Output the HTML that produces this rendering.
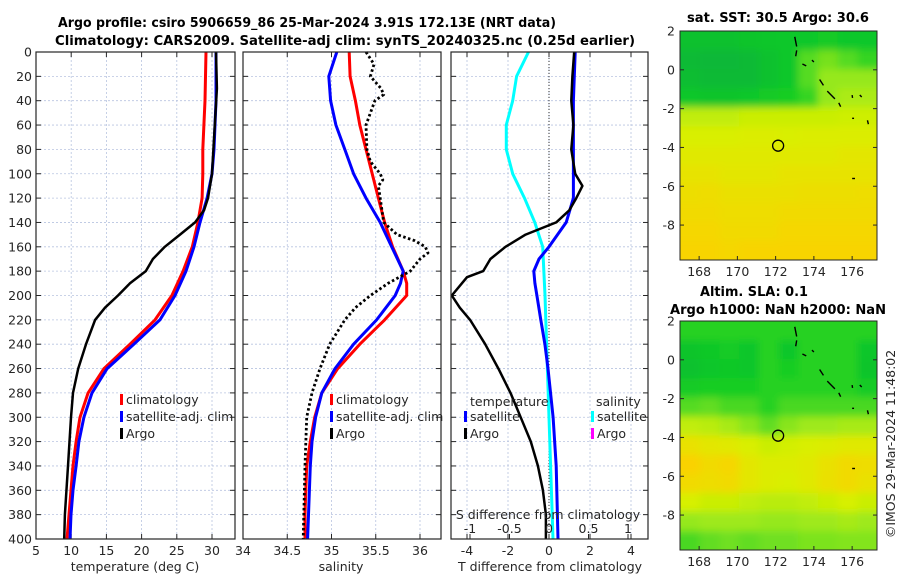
<!DOCTYPE html>
<html><head><meta charset="utf-8">
<style>
html,body{margin:0;padding:0;background:#fff;}
svg{display:block;font-family:"DejaVu Sans","Liberation Sans",sans-serif;}
.t{font-size:12.5px;fill:#262626;}
.b{font-size:13px;font-weight:bold;fill:#000;}
</style></head>
<body>
<svg id="fig" width="900" height="580" viewBox="0 0 900 580">
<text class="b" x="307" y="27" text-anchor="middle" textLength="498" lengthAdjust="spacingAndGlyphs">Argo profile: csiro 5906659_86 25-Mar-2024 3.91S 172.13E (NRT data)</text>
<text class="b" x="345" y="45" text-anchor="middle" textLength="580" lengthAdjust="spacingAndGlyphs">Climatology: CARS2009. Satellite-adj clim: synTS_20240325.nc (0.25d earlier)</text>
<text class="b" x="778" y="22" text-anchor="middle" textLength="182" lengthAdjust="spacingAndGlyphs">sat. SST: 30.5 Argo: 30.6</text>
<text class="b" x="754" y="296" text-anchor="middle" textLength="108" lengthAdjust="spacingAndGlyphs">Altim. SLA: 0.1</text>
<text class="b" x="778" y="314" text-anchor="middle" textLength="216" lengthAdjust="spacingAndGlyphs">Argo h1000: NaN h2000: NaN</text>
<text class="t" transform="translate(895,444) rotate(-90)" text-anchor="middle">©IMOS 29-Mar-2024 11:48:02</text>
</svg>
<script>
// ---- data ----
const depths1 = [0,40,80,100,120,140,160,180,200,220,240,260,280,300,320,340,360,380,400];
const tempClim = [29.15,29.0,28.7,28.7,28.6,28.0,27.2,25.9,24.3,21.9,18.35,14.66,12.4,11.25,10.7,10.26,9.97,9.69,9.4];
const tempSat = [30.57,30.57,30.28,30.0,29.3,28.3,27.44,26.3,24.74,22.6,18.9,15.1,12.95,11.8,11.1,10.7,10.26,9.97,9.83];
const depthsArgo = [0,30,60,100,120,130,140,150,160,170,180,190,200,210,220,240,260,280,300,340,380,400];
const tempArgo = [30.57,30.7,30.4,30.0,29.43,28.86,27.6,25.45,23.3,21.6,20.6,18.35,16.65,14.8,13.4,12.1,11.0,10.26,9.97,9.55,9.1,9.0];
const depthsS = [0,20,40,60,80,100,120,140,160,180,190,200,220,240,260,280,300,320,340,360,380,400];
const salClim = [35.20,35.21,35.27,35.32,35.39,35.46,35.53,35.60,35.69,35.81,35.85,35.85,35.60,35.32,35.07,34.89,34.81,34.76,34.72,34.71,34.70,34.70];
const salSat = [35.06,34.97,34.99,35.05,35.15,35.25,35.39,35.55,35.68,35.81,35.78,35.72,35.51,35.25,35.04,34.89,34.82,34.78,34.76,34.75,34.74,34.73];
const depthsSArgo = [0,10,20,30,35,40,50,60,80,90,100,105,110,120,140,150,155,160,165,170,180,190,200,210,220,240,260,280,300,340,400];
const salArgo = [35.39,35.48,35.44,35.56,35.59,35.49,35.44,35.39,35.40,35.44,35.55,35.58,35.53,35.55,35.59,35.74,35.94,36.06,36.09,36.0,35.89,35.64,35.44,35.27,35.15,34.98,34.87,34.78,34.72,34.70,34.68];
const depthsD = [0,20,40,60,80,100,110,120,130,140,150,160,170,180,185,190,200,210,220,240,260,280,300,320,340,360,380,400];
const dTArgo = [1.23,1.14,1.09,1.19,1.09,1.28,1.63,1.33,0.99,0.35,-1.14,-2.12,-2.86,-3.21,-4.0,-4.25,-4.74,-4.35,-3.85,-3.11,-2.47,-1.88,-1.38,-0.89,-0.54,-0.30,-0.15,-0.15];
const depthsDS = [0,40,80,120,140,160,170,180,190,200,220,240,260,300,340,400];
const dTSat = [1.28,1.19,1.19,1.19,0.84,0,-0.49,-0.74,-0.69,-0.59,-0.4,-0.2,-0.05,0.2,0.35,0.44];
const depthsC = [0,20,40,60,80,100,120,140,160,200,240,300,400];
const dSSat = [-0.26,-0.41,-0.46,-0.54,-0.54,-0.46,-0.31,-0.18,-0.08,-0.05,-0.03,0,0.05];
const depthTicks = [0,20,40,60,80,100,120,140,160,180,200,220,240,260,280,300,320,340,360,380,400];
const tTicks = [5,10,15,20,25,30,35];
const sTicks = [34,34.5,35,35.5,36];
const dTicks = [-4,-2,0,2,4];
const dSTicks = [-1,-0.5,0,0.5,1];
const lonTicks = [168,170,172,174,176];
const latTicks = [2,0,-2,-4,-6,-8];
const sstGrid = [
[0.2,0.2,0.2,0.22,0.24,0.25,0.25,0.27,0.25,0.25],
[0.14,0.12,0.12,0.14,0.2,0.25,0.4,0.45,0.4,0.35],
[0.16,0.14,0.14,0.14,0.2,0.25,0.4,0.5,0.5,0.5],
[0.25,0.22,0.22,0.25,0.27,0.3,0.35,0.5,0.55,0.55],
[0.6,0.6,0.6,0.62,0.62,0.62,0.62,0.62,0.63,0.63],
[0.66,0.66,0.66,0.67,0.67,0.66,0.67,0.67,0.67,0.67],
[0.7,0.7,0.7,0.7,0.7,0.7,0.7,0.7,0.72,0.72],
[0.74,0.74,0.72,0.72,0.72,0.74,0.74,0.74,0.74,0.74],
[0.77,0.78,0.76,0.76,0.76,0.76,0.77,0.77,0.77,0.78],
[0.8,0.8,0.78,0.78,0.78,0.8,0.8,0.8,0.8,0.8],
[0.82,0.82,0.8,0.8,0.8,0.82,0.82,0.82,0.82,0.82],
[0.84,0.84,0.82,0.84,0.84,0.84,0.84,0.84,0.84,0.84]];
const slaGrid = [
[0.33,0.33,0.33,0.33,0.33,0.33,0.33,0.33,0.33,0.33],
[0.22,0.26,0.28,0.24,0.33,0.24,0.33,0.33,0.33,0.24],
[0.2,0.24,0.26,0.24,0.33,0.3,0.33,0.33,0.33,0.22],
[0.28,0.3,0.3,0.3,0.33,0.33,0.33,0.33,0.33,0.28],
[0.4,0.42,0.38,0.38,0.33,0.38,0.38,0.38,0.38,0.38],
[0.6,0.58,0.54,0.48,0.42,0.48,0.52,0.52,0.54,0.54],
[0.75,0.72,0.7,0.66,0.62,0.64,0.66,0.68,0.7,0.7],
[0.85,0.8,0.82,0.72,0.68,0.68,0.7,0.75,0.8,0.78],
[0.8,0.78,0.8,0.72,0.68,0.66,0.7,0.76,0.8,0.75],
[0.65,0.62,0.62,0.6,0.58,0.58,0.6,0.62,0.65,0.62],
[0.5,0.52,0.52,0.52,0.5,0.5,0.52,0.52,0.54,0.52],
[0.38,0.42,0.44,0.42,0.44,0.44,0.46,0.46,0.47,0.47]];

// ---- helpers ----
const NS='http://www.w3.org/2000/svg';
const svg=document.getElementById('fig');
function el(tag,attrs,parent){const e=document.createElementNS(NS,tag);for(const k in attrs)e.setAttribute(k,attrs[k]);(parent||svg).appendChild(e);return e;}
const Y0=52,Y1=539;
const yD=d=>Y0+(d/400)*(Y1-Y0);
function lin(d0,d1,p0,p1){return v=>p0+(v-d0)/(d1-d0)*(p1-p0);}
const xT=lin(5,30,36,212), xS=lin(34,36,243,420), xD=lin(0,4,549,631), xDS=lin(0,1,549,628);
const panels=[{x0:36,x1:235,name:'temperature-panel'},{x0:243,x1:441,name:'salinity-panel'},{x0:451,x1:648,name:'difference-panel'}];

function drawPanel(p,xScale,ticks,tickFmt,showY){
  const g=el('g',{});
  
  
  depthTicks.forEach(d=>{
    const l=el('line',{x1:p.x0,x2:p.x1,y1:yD(d),y2:yD(d),stroke:'#b8c4e0','stroke-width':0.8,'stroke-dasharray':'2,2'},g);
    
    
    el('line',{x1:p.x0,x2:p.x0+5,y1:yD(d),y2:yD(d),stroke:'#262626'},g);
    el('line',{x1:p.x1,x2:p.x1-5,y1:yD(d),y2:yD(d),stroke:'#262626'},g);
    if(showY){const t=el('text',{x:p.x0-4,y:yD(d)+4.5,'text-anchor':'end',class:'t'},g);t.textContent=d;
      
      }
  });
  ticks.forEach(v=>{
    const x=xScale(v);
    if(x>p.x0+1&&x<p.x1-1){
      const l=el('line',{x1:x,x2:x,y1:Y0,y2:Y1,stroke:'#b8c4e0','stroke-width':0.8,'stroke-dasharray':'2,2'},g);
      
      
      el('line',{x1:x,x2:x,y1:Y1,y2:Y1-5,stroke:'#262626'},g);
      el('line',{x1:x,x2:x,y1:Y0,y2:Y0+5,stroke:'#262626'},g);
    }
    if(x>=p.x0-3&&x<=p.x1+3){const t=el('text',{x:x,y:Y1+16,'text-anchor':'middle',class:'t'},g);t.textContent=tickFmt(v);
      
      }
  });
  return g;
}
function line(xs,ds,xScale,color,w,dash,name,g){
  const pts=xs.map((v,i)=>xScale(v).toFixed(1)+','+yD(ds[i]).toFixed(1)).join(' ');
  const pl=el('polyline',{points:pts,fill:'none',stroke:color,'stroke-width':w,'stroke-linejoin':'round'},g);
  if(dash)pl.setAttribute('stroke-dasharray',dash);
  
  
}
function frame(p,g){el('rect',{x:p.x0,y:Y0,width:p.x1-p.x0,height:Y1-Y0,fill:'none',stroke:'#262626','stroke-width':1.2},g);}
function label(x,y,txt,name,anchor,g,color){const t=el('text',{x:x,y:y,class:'t','text-anchor':anchor||'start'},g);if(color)t.setAttribute('fill',color);t.textContent=txt;
  
  return t;}
function legItem(x,y,color,txt,name,g){
  el('rect',{x:x,y:y-10,width:3,height:11,fill:color},g);
  label(x+6,y,txt,name,'start',g);
}

let g1=drawPanel(panels[0],xT,tTicks,v=>v,true);
line(tempClim,depths1,xT,'#ff0000',3,null,'climatology-temp-line',g1);
line(tempSat,depths1,xT,'#0000ff',3,null,'satellite-temp-line',g1);
line(tempArgo,depthsArgo,xT,'#000',2.5,null,'argo-temp-line',g1);
frame(panels[0],g1);
legItem(120,404,'#ff0000','climatology','legend-climatology',g1);
legItem(120,421,'#0000ff','satellite-adj. clim','legend-satellite-adj',g1);
legItem(120,438,'#000','Argo','legend-argo',g1);
label(135,571,'temperature (deg C)','x-axis-title-temperature','middle',g1);

let g2=drawPanel(panels[1],xS,sTicks,v=>v,false);
line(salClim,depthsS,xS,'#ff0000',3,null,'climatology-salinity-line',g2);
line(salSat,depthsS,xS,'#0000ff',3,null,'satellite-salinity-line',g2);
line(salArgo,depthsSArgo,xS,'#000',2.8,'2.5,2.5','argo-salinity-line',g2);
frame(panels[1],g2);
legItem(330,404,'#ff0000','climatology','legend-climatology-2',g2);
legItem(330,421,'#0000ff','satellite-adj. clim','legend-satellite-adj-2',g2);
legItem(330,438,'#000','Argo','legend-argo-2',g2);
label(341,571,'salinity','x-axis-title-salinity','middle',g2);

let g3=drawPanel(panels[2],xD,dTicks,v=>v,false);
const zl=el('line',{x1:xD(0),x2:xD(0),y1:Y0,y2:Y1,stroke:'#333','stroke-width':1,'stroke-dasharray':'1,2'},g3);


line(dSSat,depthsC,xDS,'#00ffff',3,null,'satellite-salinity-diff-line',g3);
line(dTSat,depthsDS,xD,'#0000ff',3,null,'satellite-temp-diff-line',g3);
line(dTArgo,depthsD,xD,'#000',2.5,null,'argo-temp-diff-line',g3);
frame(panels[2],g3);
label(470,406,'temperature','legend-title-temperature','start',g3);
label(596,406,'salinity','legend-title-salinity','start',g3);
legItem(464,421,'#0000ff','satellite','legend-temp-satellite',g3);
legItem(464,438,'#000','Argo','legend-temp-argo',g3);
legItem(591,421,'#00ffff','satellite','legend-sal-satellite',g3);
legItem(591,438,'#ff00ff','Argo','legend-sal-argo',g3);
label(548,519,'S difference from climatology','s-axis-title','middle',g3);
dSTicks.forEach(v=>{label(xDS(v),533,v,'s-tick-label','middle',g3);
  el('line',{x1:xDS(v),x2:xDS(v),y1:Y1,y2:Y1-5,stroke:'#262626'},g3);});
label(550,571,'T difference from climatology','x-axis-title-tdiff','middle',g3);

const cstops=[[0,[0,170,70]],[0.3,[20,205,35]],[0.5,[150,232,30]],[0.65,[215,240,0]],[0.85,[250,210,0]],[1,[250,170,0]]];
function cmap(v){for(let i=1;i<cstops.length;i++){if(v<=cstops[i][0]){const a=cstops[i-1],b=cstops[i];const t=(v-a[0])/(b[0]-a[0]);return 'rgb('+a[1].map((c,k)=>Math.round(c+(b[1][k]-c)*t)).join(',')+')';}}return 'rgb(250,170,0)';}
function drawMap(y0,y1,grid,name,id){
  const x0=680,x1=877;
  const xL=lin(167,177.3,x0,x1), yL=lin(2,-9.8,y0,y1);
  const g=el('g',{});
  
  
  const defs=el('defs',{},g);
  const cp=el('clipPath',{id:'clip'+id},defs);
  el('rect',{x:x0,y:y0,width:x1-x0,height:y1-y0},cp);
  const fl=el('filter',{id:'blur'+id,x:'-5%',y:'-5%',width:'110%',height:'110%'},defs);
  el('feGaussianBlur',{stdDeviation:4},fl);
  const cg=el('g',{'clip-path':'url(#clip'+id+')'},g);
  const bg=el('g',{filter:'url(#blur'+id+')'},cg);
  const nr=grid.length,nc=grid[0].length;
  const cw=(x1-x0)/nc,ch=(y1-y0)/nr;
  grid.forEach((row,r)=>row.forEach((v,c)=>{
    let w=cw+0.6,h=ch+0.6,x=x0+c*cw,y=y0+r*ch;
    if(c===0){x-=10;w+=10;} if(c===nc-1){w+=10;} if(r===0){y-=10;h+=10;} if(r===nr-1){h+=10;}
    const cell=el('rect',{x:x,y:y,width:w,height:h,fill:cmap(v)},bg);
    
    
  }));
  const coast=[[173,1.7,173.1,1.2],[173.1,1.0,173.05,0.7],[173.4,0.3,173.6,0.2],[173.9,0.5,174,0.4],[174.3,-0.5,174.5,-0.8],[174.7,-1.1,175.1,-1.5],[175.3,-1.7,175.4,-1.9],[176,-1.3,176.02,-1.45],[176.4,-1.3,176.5,-1.4],[176,-2.5,176.1,-2.5],[176.8,-2.6,176.85,-2.8],[176,-5.6,176.15,-5.6]];
  coast.forEach(c=>{const l=el('line',{x1:xL(c[0]),y1:yL(c[1]),x2:xL(c[2]),y2:yL(c[3]),stroke:'#000','stroke-width':1.4},g);
    
    });
  const ci=el('circle',{cx:xL(172.13),cy:yL(-3.91),r:5.5,fill:'none',stroke:'#000','stroke-width':1.3},g);
  
  
  el('rect',{x:x0,y:y0,width:x1-x0,height:y1-y0,fill:'none',stroke:'#262626','stroke-width':1},g);
  lonTicks.forEach(v=>{el('line',{x1:xL(v),x2:xL(v),y1:y1,y2:y1-4,stroke:'#262626'},g);
    label(xL(v),y1+16,v,'lon-tick-label','middle',g);});
  latTicks.forEach(v=>{el('line',{x1:x0,x2:x0+4,y1:yL(v),y2:yL(v),stroke:'#262626'},g);
    el('line',{x1:x1,x2:x1-4,y1:yL(v),y2:yL(v),stroke:'#262626'},g);
    label(x0-5,yL(v)+4.5,v,'lat-tick-label','end',g);});
}
drawMap(31,260,sstGrid,'sst-map','a');
drawMap(321,550,slaGrid,'sla-map','b');
</script>
</body></html>
